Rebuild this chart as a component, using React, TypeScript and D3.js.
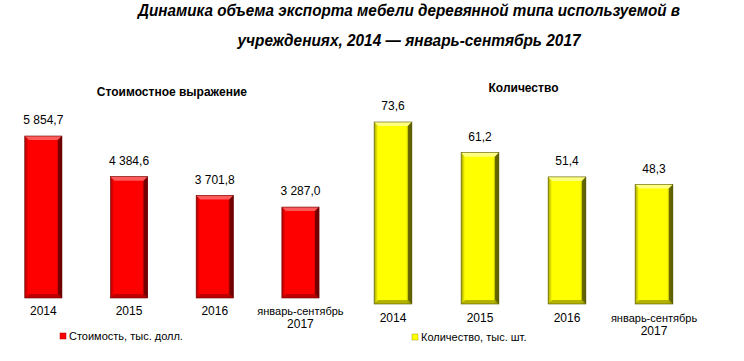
import React from "react";
import * as d3 from "d3";

const categories = ["2014", "2015", "2016", "январь-сентябрь\n2017"];
const costValues = [5854.7, 4384.6, 3701.8, 3287.0];
const qtyValues = [73.6, 61.2, 51.4, 48.3];
const costLabels = ["5 854,7", "4 384,6", "3 701,8", "3 287,0"];
const qtyLabels = ["73,6", "61,2", "51,4", "48,3"];
const titleLines = [
  "Динамика объема экспорта мебели деревянной типа используемой в",
  "учреждениях, 2014 — январь-сентябрь 2017",
];

const FONT = "'Liberation Sans', Arial, sans-serif";

type Colors = { main: string; light: string; dark: string; darker: string };

type PanelProps = {
  id: string;
  title: string;
  titleY: number;
  values: number[];
  labels: string[];
  x0: number;
  x1: number;
  yBase: number;
  yTop: number;
  colors: Colors;
  catY: number;
  legendText: string;
  legendX: number;
  legendY: number;
};

function Panel(p: PanelProps) {
  const c0 = p.colors;
  const x = d3
    .scaleBand<string>()
    .domain(categories)
    .range([p.x0, p.x1])
    .paddingInner(0.566)
    .paddingOuter(0.283);
  const y = d3
    .scaleLinear()
    .domain([0, d3.max(p.values) as number])
    .range([p.yBase, p.yTop]);
  const bw = x.bandwidth();
  const b = 4;
  const cx = (p.x0 + p.x1) / 2;
  return (
    <g>
      <defs>
        <linearGradient id={p.id + "-h"} x1="0" x2="1" y1="0" y2="0">
          <stop offset="0" stopColor={c0.dark} />
          <stop offset="0.1" stopColor={c0.main} />
          <stop offset="0.85" stopColor={c0.main} />
          <stop offset="1" stopColor={c0.darker} />
        </linearGradient>
      </defs>
      <text
        x={cx}
        y={p.titleY}
        textAnchor="middle"
        fontFamily={FONT}
        fontWeight="bold"
        fontSize={12}
        fill="#000"
      >
        {p.title}
      </text>
      {p.values.map((v, i) => {
        const c = categories[i];
        const bx = x(c) as number;
        const by = y(v);
        const h = p.yBase - by;
        return (
          <g key={c}>
            <rect x={bx} y={by} width={bw} height={h} fill={`url(#${p.id}-h)`} />
            <path
              d={`M${bx},${by} L${bx + bw},${by} L${bx + bw - b},${by + b} L${bx + b},${by + b} Z`}
              fill={c0.light}
            />
            <path
              d={`M${bx + bw},${by} L${bx + bw},${p.yBase} L${bx + bw - b},${p.yBase - b} L${bx + bw - b},${by + b} Z`}
              fill={c0.darker}
              opacity={0.85}
            />
            <path
              d={`M${bx},${p.yBase} L${bx + bw},${p.yBase} L${bx + bw - b},${p.yBase - b} L${bx + b},${p.yBase - b} Z`}
              fill={c0.dark}
              opacity={0.8}
            />
            <rect
              x={bx}
              y={by}
              width={bw}
              height={h}
              fill="none"
              stroke={c0.darker}
              strokeWidth={0.6}
            />
            <text
              x={bx + bw / 2}
              y={by - 12}
              textAnchor="middle"
              fontFamily={FONT}
              fontSize={12}
              fill="#000"
            >
              {p.labels[i]}
            </text>
            {c.split("\n").map((line, j) => (
              <text
                key={j}
                x={bx + bw / 2}
                y={p.catY + j * 13}
                textAnchor="middle"
                fontFamily={FONT}
                fontSize={line.length > 6 ? 11 : 12}
                fill="#000"
              >
                {line}
              </text>
            ))}
          </g>
        );
      })}
      <rect
        x={p.legendX}
        y={p.legendY - 7}
        width={6}
        height={6}
        fill={c0.main}
        stroke={c0.dark}
        strokeWidth={0.5}
      />
      <text x={p.legendX + 9} y={p.legendY} fontFamily={FONT} fontSize={11} fill="#000">
        {p.legendText}
      </text>
    </g>
  );
}

export default function App() {
  return (
    <svg
      width={744}
      height={361}
      style={{ position: "absolute", left: 0, top: 0, background: "#fff" }}
    >
      <rect width={744} height={361} fill="#fff" />
      <text
        x={409}
        y={16}
        textAnchor="middle"
        fontFamily={FONT}
        fontWeight="bold"
        fontStyle="italic"
        fontSize={16}
        textLength={542}
        lengthAdjust="spacingAndGlyphs"
        fill="#000"
      >
        {titleLines[0]}
      </text>
      <text
        x={409}
        y={46}
        textAnchor="middle"
        fontFamily={FONT}
        fontWeight="bold"
        fontStyle="italic"
        fontSize={16}
        textLength={343}
        lengthAdjust="spacingAndGlyphs"
        fill="#000"
      >
        {titleLines[1]}
      </text>
      <Panel
        id="cost"
        title="Стоимостное выражение"
        titleY={96}
        values={costValues}
        labels={costLabels}
        x0={0.5}
        x1={343.3}
        yBase={298}
        yTop={136}
        colors={{ main: "#ff0000", light: "#ff5a5a", dark: "#b00000", darker: "#6a0000" }}
        catY={315}
        legendText="Стоимость, тыс. долл."
        legendX={60}
        legendY={340}
      />
      <Panel
        id="qty"
        title="Количество"
        titleY={92}
        values={qtyValues}
        labels={qtyLabels}
        x0={349.5}
        x1={697.5}
        yBase={304}
        yTop={122}
        colors={{ main: "#ffff00", light: "#ffff80", dark: "#a0a000", darker: "#5a5a00" }}
        catY={322}
        legendText="Количество, тыс. шт."
        legendX={412}
        legendY={341}
      />
    </svg>
  );
}
